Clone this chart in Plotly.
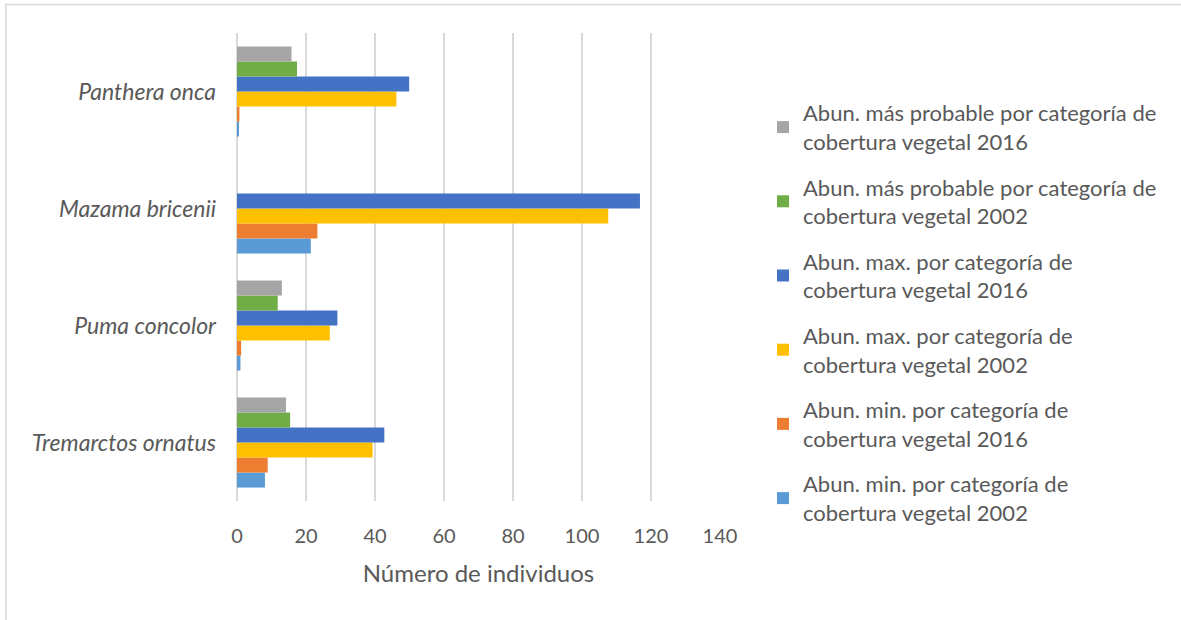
import plotly.graph_objects as go

# Species, listed bottom to top as they appear on the category axis
species = ["Tremarctos ornatus", "Puma concolor", "Mazama bricenii", "Panthera onca"]

# Abundance estimates (number of individuals) per species
min_2002 = [8.1, 1.0, 21.4, 0.5]
min_2016 = [8.9, 1.2, 23.3, 0.7]
max_2002 = [39.3, 26.9, 107.6, 46.2]
max_2016 = [42.7, 29.1, 116.8, 49.9]
prob_2002 = [15.4, 11.8, 0, 17.4]
prob_2016 = [14.2, 13.0, 0, 15.8]

series = [
    ("Abun. min. por categoría de<br>cobertura vegetal 2002", min_2002, "#5B9BD5"),
    ("Abun. min. por categoría de<br>cobertura vegetal 2016", min_2016, "#ED7D31"),
    ("Abun. max. por categoría de<br>cobertura vegetal 2002", max_2002, "#FFC000"),
    ("Abun. max. por categoría de<br>cobertura vegetal 2016", max_2016, "#4472C4"),
    ("Abun. más probable por categoría de<br>cobertura vegetal 2002", prob_2002, "#70AD47"),
    ("Abun. más probable por categoría de<br>cobertura vegetal 2016", prob_2016, "#A5A5A5"),
]

FONT = "Lato, 'Open Sans', sans-serif"
TXT = "#595959"

fig = go.Figure()
n = len(series)
for i, (name, vals, col) in enumerate(series):
    fig.add_trace(go.Bar(
        y=species, x=vals, name=name, orientation="h",
        marker=dict(color=col, line=dict(width=0)),
        legendgroup=f"g{i}",
        legendrank=n - i,
    ))

W, H = 1181, 620
L, R, T, B = 236.7, 719.7, 33, 501

fig.update_layout(
    width=W, height=H,
    margin=dict(l=L, r=W - R, t=T, b=H - B, autoexpand=False),
    paper_bgcolor="white", plot_bgcolor="white",
    barmode="group", bargap=0.23, bargroupgap=0,
    font=dict(family=FONT, color=TXT),
    legend=dict(
        xref="container", yref="container",
        x=763 / W, y=1 - 92 / H, xanchor="left", yanchor="top",
        traceorder="grouped", tracegroupgap=14,
        font=dict(size=22, color=TXT, family=FONT),
        itemwidth=30, maxheight=560,
        bgcolor="rgba(0,0,0,0)",
    ),
    xaxis=dict(
        range=[0, 140], dtick=20, tick0=0,
        showgrid=True, gridcolor="#D9D9D9", gridwidth=1.5,
        zeroline=True, zerolinecolor="#D9D9D9", zerolinewidth=1.5,
        showline=False, ticks="",
        tickfont=dict(size=20, color=TXT, family=FONT),
        ticklabelstandoff=21,
        title=dict(text="Número de individuos", font=dict(size=24, color=TXT, family=FONT), standoff=19),
        fixedrange=True,
    ),
    yaxis=dict(
        type="category",
        tickvals=species,
        ticktext=[f"<i>{s}</i>" for s in species],
        tickfont=dict(size=23, color=TXT, family=FONT),
        showgrid=False, showline=False, ticks="",
        ticklabelstandoff=20,
        fixedrange=True,
    ),
    shapes=[dict(
        type="rect", xref="paper", yref="paper",
        x0=(5.5 - L) / (R - L), x1=(1190 - L) / (R - L),
        y0=(B - 630) / (B - T), y1=(B - 4.5) / (B - T),
        line=dict(color="#D9D9D9", width=1.5), fillcolor="rgba(0,0,0,0)",
        layer="below",
    )],
)

fig.write_html("out.html")
